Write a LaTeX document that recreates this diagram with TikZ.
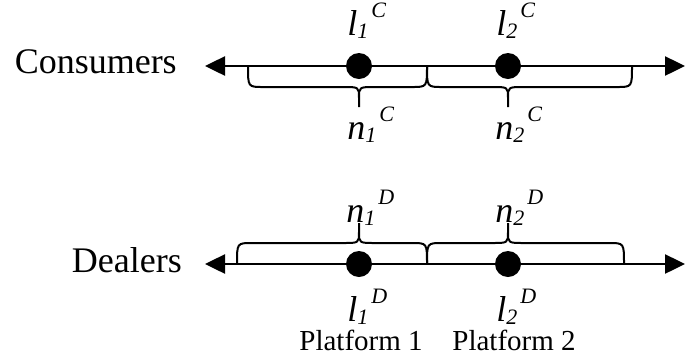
\documentclass[tikz,border=0pt]{standalone}
\usepackage{fontspec}
\setmainfont{Liberation Serif}
\usetikzlibrary{arrows.meta}
\newcommand{\pvar}[3]{{\itshape #1\raisebox{-3pt}{\fontsize{22}{22}\selectfont #2}\kern3pt\raisebox{18pt}{\fontsize{22}{22}\selectfont #3}}}

\begin{document}
\begin{tikzpicture}[x=1pt, y=-1pt, line width=2.5pt,
  axis/.style={{Triangle[length=20pt,width=19pt]}-{Triangle[length=20pt,width=19pt]}},
  dot/.style={circle, fill, inner sep=0pt, minimum size=26pt},
  side/.style={font=\fontsize{36}{40}\selectfont, inner sep=0pt, anchor=base east},
  var/.style={font=\fontsize{36}{40}\selectfont, inner sep=0pt, anchor=base west},
  plat/.style={font=\fontsize{29}{32}\selectfont, inner sep=0pt, anchor=base},
  brace/.style={line width=2pt, line join=round}]
\useasboundingbox (0,0) rectangle (686,360);

\node[side] (cons) at (178,73) {Consumers};
\node[side] (deal) at (183,272) {Dealers};

\coordinate (cl) at (205,66);
\coordinate (cr) at (685,66);
\coordinate (dl) at (205,264);
\coordinate (dr) at (685,264);
\draw[axis] (cl) -- (cr);
\draw[axis] (dl) -- (dr);

% braces: left end / tip / right end / line / arm / cusp / tip end
\foreach \a/\t/\b/\y/\m/\c/\e in {248/359/427/66/87/98/107, 427/508/632/66/87/98/107,
                                 237/359/427/264/243/232/223, 427/508/624/264/243/232/223}
  \draw[brace] (\a,\y) .. controls (\a,\m) .. (\a+15,\m) -- (\t-16,\m)
    .. controls (\t,\m) .. (\t,\c) -- (\t,\e) (\t,\c) .. controls (\t,\m) .. (\t+16,\m)
    -- (\b-15,\m) .. controls (\b,\m) .. (\b,\y);

\node[dot] (c1) at (359,66) {};
\node[dot] (c2) at (508,66) {};
\node[dot] (d1) at (359,264) {};
\node[dot] (d2) at (508,264) {};

\node[var] (l1c) at (346,35) {\pvar{l}{1}{C}};
\node[var] (l2c) at (495,35) {\pvar{l}{2}{C}};
\node[var] (n1c) at (346,139) {\pvar{n}{1}{C}};
\node[var] (n2c) at (494,139) {\pvar{n}{2}{C}};
\node[var] (n1d) at (345,222) {\pvar{n}{1}{D}};
\node[var] (n2d) at (494,222) {\pvar{n}{2}{D}};
\node[var] (l1d) at (346,321) {\pvar{l}{1}{D}};
\node[var] (l2d) at (495,321) {\pvar{l}{2}{D}};

\node[plat] (p1) at (361,350) {Platform 1};
\node[plat] (p2) at (514,350) {Platform 2};
\end{tikzpicture}
\end{document}
